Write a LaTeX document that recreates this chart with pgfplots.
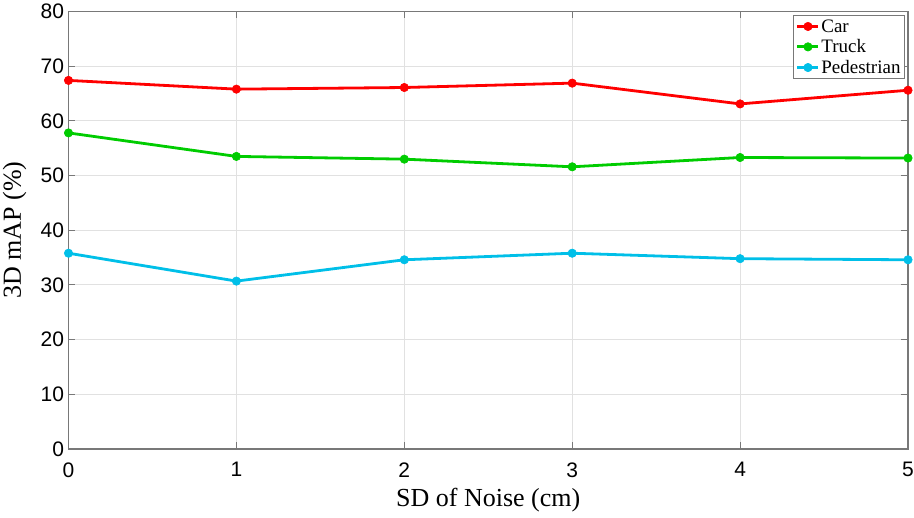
\documentclass[border=0pt]{standalone}
\usepackage{fontspec}
\setmainfont{Liberation Serif}
\setsansfont{Liberation Sans}
\usepackage{pgfplots}
\pgfplotsset{compat=1.18}
\usetikzlibrary{calc}

\definecolor{carred}{RGB}{255,0,0}
\definecolor{truckgreen}{RGB}{0,204,0}
\definecolor{pedcyan}{RGB}{0,191,232}
\definecolor{gridgray}{RGB}{225,225,225}
\definecolor{axisgray}{RGB}{120,120,120}

\begin{document}
\begin{tikzpicture}
\begin{axis}[
  name=ax,
  scale only axis,
  width=839.5pt, height=437.5pt,
  xmin=0, xmax=5, ymin=0, ymax=80,
  xtick={0,1,2,3,4,5},
  ytick={0,10,20,30,40,50,60,70,80},
  clip=false,
  tick align=inside,
  major tick length=7pt,
  tick style={axisgray, line width=0.9pt},
  axis line style={axisgray, line width=1.1pt},
  grid=major,
  major grid style={gridgray, line width=0.9pt},
  /pgf/number format/assume math mode=true,
  ticklabel style={font=\sffamily\fontsize{21}{21}\selectfont, text=black},
  xticklabel style={yshift=-10pt},
  yticklabel style={xshift=-1pt},
  xlabel={SD of Noise (cm)},
  ylabel={3D mAP (\%)},
  label style={font=\fontsize{26}{26}\selectfont},
  xlabel style={at={([yshift=-58pt]axis description cs:0.5,0)}, anchor=base},
  ylabel style={at={([xshift=-47.5pt]axis description cs:0,0.5)}, anchor=base, rotate=0},
  legend style={at={(0.9964,0.992)}, anchor=north east,
    font=\fontsize{19}{19}\selectfont, draw=axisgray, line width=0.9pt,
    inner sep=2.5pt, row sep=3pt, legend cell align=left,
    nodes={inner sep=1.5pt}},
  legend image code/.code={
    \draw[mark repeat=2,mark phase=2] plot coordinates {(0pt,0pt) (10.5pt,0pt) (21pt,0pt)};
  },
  every axis plot/.append style={line width=2.8pt, mark=*},
]
\addplot[carred, mark options={fill=carred, line width=0.6pt, mark size=4.2pt}] coordinates {
  (0,67.4) (1,65.8) (2,66.1) (3,66.9) (4,63.1) (5,65.6)};
\addlegendentry{Car}
\addplot[truckgreen, mark options={fill=truckgreen, line width=0.6pt, mark size=4.2pt}] coordinates {
  (0,57.8) (1,53.5) (2,53.0) (3,51.6) (4,53.3) (5,53.2)};
\addlegendentry{Truck}
\addplot[pedcyan, mark options={fill=pedcyan, line width=0.6pt, mark size=4.2pt}] coordinates {
  (0,35.8) (1,30.7) (2,34.6) (3,35.8) (4,34.8) (5,34.6)};
\addlegendentry{Pedestrian}
\end{axis}
\pgfresetboundingbox
\path[use as bounding box] ($(ax.south west)+(-68.5pt,-69pt)$) rectangle ($(ax.north east)+(6pt,11.5pt)$);
\end{tikzpicture}
\end{document}
